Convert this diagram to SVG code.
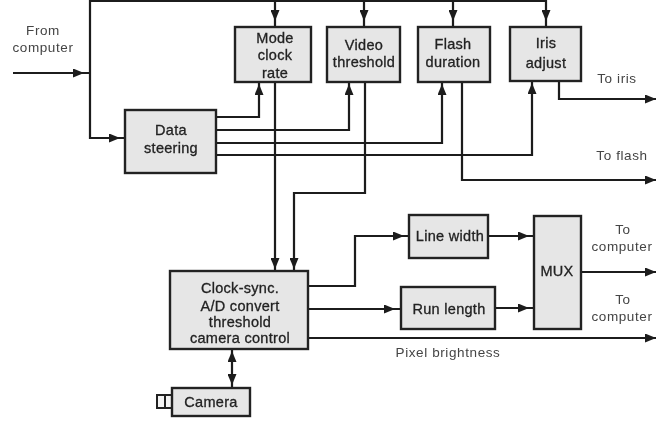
<svg xmlns="http://www.w3.org/2000/svg" width="656" height="423" viewBox="0 0 656 423">
<style>
.box{fill:#e6e6e6;stroke:#222;stroke-width:2.4}
.lens{fill:#f4f4f4;stroke:#222;stroke-width:2}
.c{fill:none;stroke:#1c1c1c;stroke-width:2.2;stroke-linejoin:miter}
.h{fill:none;stroke:none}
.t{font-family:"Liberation Sans",Arial,sans-serif;font-size:14.5px;letter-spacing:.3px;fill:#222;text-anchor:middle;stroke:#222;stroke-width:.3}
.l{font-family:"Liberation Sans",Arial,sans-serif;font-size:13.5px;letter-spacing:.6px;fill:#444;text-anchor:middle}
</style>
<defs>
<marker id="a" markerUnits="userSpaceOnUse" markerWidth="11" markerHeight="9" refX="11" refY="4.5" orient="auto"><path d="M0 0L11 4.5L0 9Z" fill="#1c1c1c"/></marker>
<filter id="soft" filterUnits="userSpaceOnUse" x="0" y="0" width="656" height="423"><feGaussianBlur stdDeviation="0.55"/></filter>
</defs>
<rect width="656" height="423" fill="#fff"/>
<g filter="url(#soft)">
<g id="connectors">
<path class="c" d="M90 1H546"/>
<path class="c" d="M90 0V138H125"/>
<path class="c" d="M13 73H90"/>
<path class="c" d="M275 0V27M364 0V27M453 0V27M546 0V27"/>
<path class="c" d="M216 117H259V83"/>
<path class="c" d="M216 130H349V83"/>
<path class="c" d="M216 143H442V83"/>
<path class="c" d="M216 155H532V82"/>
<path class="c" d="M275 82V271"/>
<path class="c" d="M365 82V193H294V271"/>
<path class="c" d="M462 82V180H656"/>
<path class="c" d="M559 81V99H656"/>
<path class="c" d="M308 286H355V236H409"/>
<path class="c" d="M308 309H401"/>
<path class="c" d="M308 338H656"/>
<path class="c" d="M488 236H534"/>
<path class="c" d="M495 308H534"/>
<path class="c" d="M581 272H656"/>
<path class="c" d="M232 349V388"/>
<g id="arrowheads" marker-end="url(#a)">
<path class="h" d="M70 73H84"/><path class="h" d="M105 138H120"/>
<path class="h" d="M275 5V21"/><path class="h" d="M364 5V21"/><path class="h" d="M453 5V21"/><path class="h" d="M546 5V21"/>
<path class="h" d="M259 100V84"/><path class="h" d="M349 100V84"/><path class="h" d="M442 100V84"/><path class="h" d="M532 100V83"/>
<path class="h" d="M275 250V269"/><path class="h" d="M294 250V269"/>
<path class="h" d="M390 236H404"/><path class="h" d="M380 309H395"/>
<path class="h" d="M515 236H529"/><path class="h" d="M515 308H529"/>
<path class="h" d="M640 99H656"/><path class="h" d="M640 180H656"/><path class="h" d="M640 272H656"/><path class="h" d="M640 338H656"/>
<path class="h" d="M232 370V351"/><path class="h" d="M232 370V385"/>
</g>
</g>
<g id="from-computer"><text class="l" x="43" y="35">From</text><text class="l" x="43" y="52">computer</text></g>
<g id="mode-clock-rate"><rect class="box" x="235" y="27" width="76" height="55"/><text class="t" x="275" y="43">Mode</text><text class="t" x="275" y="60">clock</text><text class="t" x="275" y="78">rate</text></g>
<g id="video-threshold"><rect class="box" x="327" y="27" width="73" height="55"/><text class="t" x="364" y="50">Video</text><text class="t" x="364" y="67">threshold</text></g>
<g id="flash-duration"><rect class="box" x="418" y="27" width="72" height="55"/><text class="t" x="453" y="49">Flash</text><text class="t" x="453" y="67">duration</text></g>
<g id="iris-adjust"><rect class="box" x="510" y="27" width="71" height="54"/><text class="t" x="546" y="48">Iris</text><text class="t" x="546" y="68">adjust</text></g>
<g id="data-steering"><rect class="box" x="125" y="110" width="91" height="63"/><text class="t" x="171" y="135">Data</text><text class="t" x="171" y="153">steering</text></g>
<g id="clock-sync"><rect class="box" x="170" y="271" width="138" height="78"/><text class="t" x="240" y="293">Clock-sync.</text><text class="t" x="240" y="311">A/D convert</text><text class="t" x="240" y="327">threshold</text><text class="t" x="240" y="343">camera control</text></g>
<g id="camera"><rect class="lens" x="157" y="395" width="8" height="13"/><rect class="lens" x="165" y="395" width="7" height="13"/><rect class="box" x="172" y="388" width="78" height="28"/><text class="t" x="211" y="407">Camera</text></g>
<g id="line-width"><rect class="box" x="409" y="215" width="79" height="43"/><text class="t" x="450" y="241">Line width</text></g>
<g id="run-length"><rect class="box" x="401" y="287" width="94" height="42"/><text class="t" x="449" y="314">Run length</text></g>
<g id="mux"><rect class="box" x="534" y="216" width="47" height="113"/><text class="t" x="557" y="276">MUX</text></g>
<g id="labels">
<text class="l" x="617" y="83">To iris</text>
<text class="l" x="622" y="160">To flash</text>
<text class="l" x="623" y="234">To</text><text class="l" x="622" y="251">computer</text>
<text class="l" x="623" y="304">To</text><text class="l" x="622" y="321">computer</text>
<text class="l" x="448" y="357">Pixel brightness</text>
</g>
</g>
</svg>
